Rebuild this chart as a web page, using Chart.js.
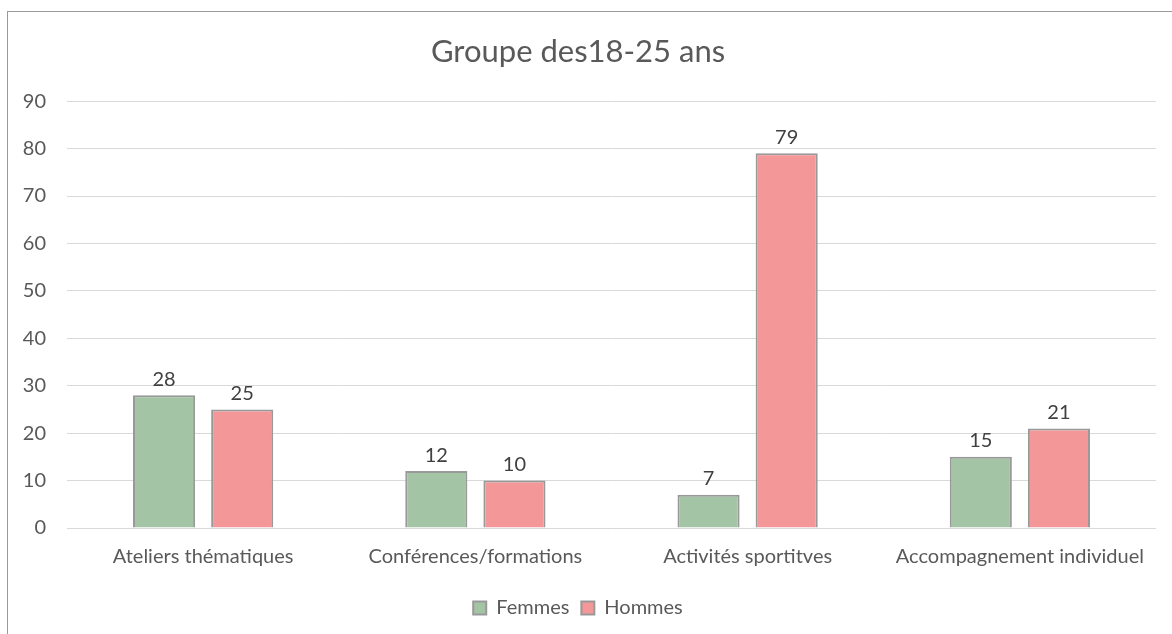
<!DOCTYPE html>
<html>
<head>
<meta charset="utf-8">
<script src="https://cdn.jsdelivr.net/npm/chart.js@4/dist/chart.umd.min.js"></script>
<style>
  html, body { margin: 0; padding: 0; background: #fff; overflow: hidden; }
  #frame { position: absolute; left: 7px; top: 11px; width: 1200px; height: 700px; border: 1px solid #9a9a9a; }
  #wrap { position: absolute; left: 0; top: 0; width: 1172px; height: 634px; }
</style>
</head>
<body>
<div id="frame"></div>
<div id="wrap"><canvas id="chart" width="1172" height="634"></canvas></div>
<script>
const categories = ['Ateliers thématiques', 'Conférences/formations', 'Activités sportitves', 'Accompagnement individuel'];
const femmes = [28, 12, 7, 15];
const hommes = [25, 10, 79, 21];
const yTicks = [0, 10, 20, 30, 40, 50, 60, 70, 80, 90];

const FONT = 'Lato, "Open Sans", sans-serif';
const TEXT = '#595959';

// étiquettes de valeurs au-dessus des barres
const valueLabels = {
    id: 'valueLabels',
    afterDatasetsDraw(chart) {
        const ctx = chart.ctx;
        ctx.save();
        ctx.font = '20px ' + FONT;
        ctx.fillStyle = '#404040';
        ctx.textAlign = 'center';
        ctx.textBaseline = 'bottom';
        chart.data.datasets.forEach((ds, i) => {
            chart.getDatasetMeta(i).data.forEach((bar, j) => {
                ctx.fillText(ds.data[j], bar.x, bar.y - 6);
            });
        });
        ctx.restore();
    }
};

document.addEventListener('DOMContentLoaded', function() {
    new Chart(document.getElementById('chart'), {
        type: 'bar',
        data: {
            labels: categories,
            datasets: [{
                label: 'Femmes',
                data: femmes,
                backgroundColor: '#a3c4a5',
                borderColor: '#999999',
                borderWidth: 2
            }, {
                label: 'Hommes',
                data: hommes,
                backgroundColor: '#f49799',
                borderColor: '#999999',
                borderWidth: 2
            }]
        },
        options: {
            responsive: false,
            animation: false,
            devicePixelRatio: 1,
            layout: { padding: { top: 14, right: 16, bottom: 6, left: 0 } },
            datasets: { bar: { categoryPercentage: 0.574, barPercentage: 0.795 } },
            scales: {
                x: {
                    grid: { display: false, drawTicks: false },
                    border: { display: false },
                    ticks: { color: TEXT, font: { family: FONT, size: 20 }, padding: 17, maxRotation: 0 }
                },
                y: {
                    min: 0,
                    max: 90,
                    afterBuildTicks: scale => { scale.ticks = yTicks.map(v => ({ value: v })); },
                    afterFit: scale => { scale.width = 67; },
                    grid: { color: '#d9d9d9', lineWidth: 1, drawTicks: false },
                    border: { display: false },
                    ticks: { color: TEXT, font: { family: FONT, size: 20 }, padding: 21 }
                }
            },
            plugins: {
                title: {
                    display: true,
                    text: 'Groupe des18-25 ans',
                    color: TEXT,
                    font: { family: FONT, size: 31, weight: 'normal' },
                    padding: { top: 19, bottom: 31 }
                },
                legend: {
                    position: 'bottom',
                    labels: {
                        color: TEXT,
                        font: { family: FONT, size: 20 },
                        boxWidth: 13,
                        boxHeight: 13,
                        padding: 12
                    }
                },
                tooltip: { enabled: false }
            }
        },
        plugins: [valueLabels]
    });
});
</script>
</body>
</html>
